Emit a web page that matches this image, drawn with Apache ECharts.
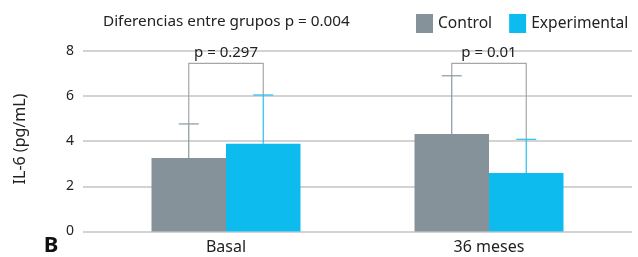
<!DOCTYPE html>
<html>
<head>
    <meta charset="utf-8">
    <title>IL-6</title>
    <script src="https://cdn.jsdelivr.net/npm/echarts@6/dist/echarts.min.js"></script>
    <style>
        html, body { margin: 0; padding: 0; background: #fff; }
        #container { width: 638px; height: 257px; }
    </style>
</head>
<body>
<div id="container"></div>
<script>
    var categories = ['Basal', '36 meses'];
    var seriesNames = ['Control', 'Experimental'];
    var controlValues = [3.25, 4.31];
    var experimentalValues = [3.88, 2.59];
    // upper end of the error bars
    var controlErrTop = [4.76, 6.89];
    var experimentalErrTop = [6.04, 4.08];
    var pLabels = ['p = 0.297', 'p = 0.01'];
    var yTicks = [0, 2, 4, 6, 8];
    var bracketLevel = 7.44;

    var colors = ['#85929a', '#0dbbee'];
    var font = '"Noto Sans", sans-serif';
    var barW = 74.5;

    var myChart = echarts.init(document.getElementById('container'));

    function errorItem(params, api) {
        var idx = api.value(0);
        var s = api.value(3);
        var off = s === 0 ? -barW / 2 : barW / 2;
        var base = api.coord([idx, api.value(1)]);
        var top = api.coord([idx, api.value(2)]);
        var x = base[0] + off;
        var col = s === 0 ? '#8a979f' : '#27bff0';
        return {
            type: 'group',
            children: [
                {type: 'line', shape: {x1: x, y1: base[1], x2: x, y2: top[1]}, style: {stroke: col, lineWidth: 1.2}},
                {type: 'line', shape: {x1: x - 10, y1: top[1], x2: x + 10, y2: top[1]}, style: {stroke: col, lineWidth: 1.2}}
            ]
        };
    }

    function bracketItem(params, api) {
        var idx = api.value(0);
        var l = api.coord([idx, api.value(1)]);
        var r = api.coord([idx, api.value(2)]);
        var t = api.coord([idx, bracketLevel]);
        var xl = l[0] - barW / 2, xr = r[0] + barW / 2;
        var st = {stroke: '#a6a6a6', lineWidth: 1.2, fill: null};
        return {
            type: 'group',
            children: [
                {type: 'polyline', shape: {points: [[xl, l[1]], [xl, t[1]], [xr, t[1]], [xr, r[1]]]}, style: st},
                {type: 'text', x: (xl + xr) / 2, y: t[1] - 11, style: {text: pLabels[idx], font: '15px ' + font, fill: '#222', align: 'center', verticalAlign: 'middle'}}
            ]
        };
    }

    var errData = [], brData = [];
    for (var i = 0; i < categories.length; i++) {
        errData.push([i, controlValues[i], controlErrTop[i], 0]);
        errData.push([i, experimentalValues[i], experimentalErrTop[i], 1]);
        brData.push([i, controlErrTop[i], experimentalErrTop[i]]);
    }

    var option = {
        animation: false,
        textStyle: {fontFamily: font},
        title: {
            text: 'Diferencias entre grupos p = 0.004',
            left: 98, top: 9,
            textStyle: {fontSize: 15.3, fontWeight: 'normal', color: '#222', fontFamily: font}
        },
        legend: {
            data: seriesNames,
            left: 411, top: 9,
            itemWidth: 17, itemHeight: 19, itemGap: 17,
            icon: 'rect',
            textStyle: {fontSize: 15.6, color: '#222', fontFamily: font}
        },
        graphic: [
            {type: 'text', x: 20, y: 139, rotation: Math.PI / 2, style: {text: 'IL-6 (pg/mL)', font: '16px ' + font, fill: '#222', align: 'center', verticalAlign: 'middle'}},
            {type: 'text', x: 51, y: 246, style: {text: 'B', font: 'bold 22px ' + font, fill: '#111', align: 'center', verticalAlign: 'middle'}}
        ],
        grid: [
            {left: 83, right: 6, top: 50.7, bottom: 25.5},
            {left: 94.5, right: 17.5, top: 50.7, bottom: 25.5}
        ],
        xAxis: [
            {gridIndex: 0, type: 'category', data: categories, show: false},
            {
                gridIndex: 1, type: 'category', data: categories,
                axisLine: {show: false}, axisTick: {show: false},
                axisLabel: {fontSize: 16, color: '#222', margin: 8, fontFamily: font}
            }
        ],
        yAxis: [
            {
                gridIndex: 0, type: 'value', min: yTicks[0], max: yTicks[yTicks.length - 1], interval: 2,
                axisLine: {show: false}, axisTick: {show: false},
                axisLabel: {fontSize: 14, color: '#222', margin: 9, fontFamily: font},
                splitLine: {lineStyle: {color: '#c4c4c4', width: 1.5}}
            },
            {
                gridIndex: 1, type: 'value', min: yTicks[0], max: yTicks[yTicks.length - 1], interval: 2,
                show: false, splitLine: {show: false}
            }
        ],
        series: [
            {name: seriesNames[0], type: 'bar', xAxisIndex: 1, yAxisIndex: 1, data: controlValues, barWidth: barW, barGap: 0, itemStyle: {color: colors[0]}},
            {name: seriesNames[1], type: 'bar', xAxisIndex: 1, yAxisIndex: 1, data: experimentalValues, barWidth: barW, barGap: 0, itemStyle: {color: colors[1]}},
            {type: 'custom', xAxisIndex: 1, yAxisIndex: 1, renderItem: bracketItem, data: brData, z: 3},
            {type: 'custom', xAxisIndex: 1, yAxisIndex: 1, renderItem: errorItem, data: errData, z: 4}
        ]
    };

    myChart.setOption(option);
</script>
</body>
</html>
